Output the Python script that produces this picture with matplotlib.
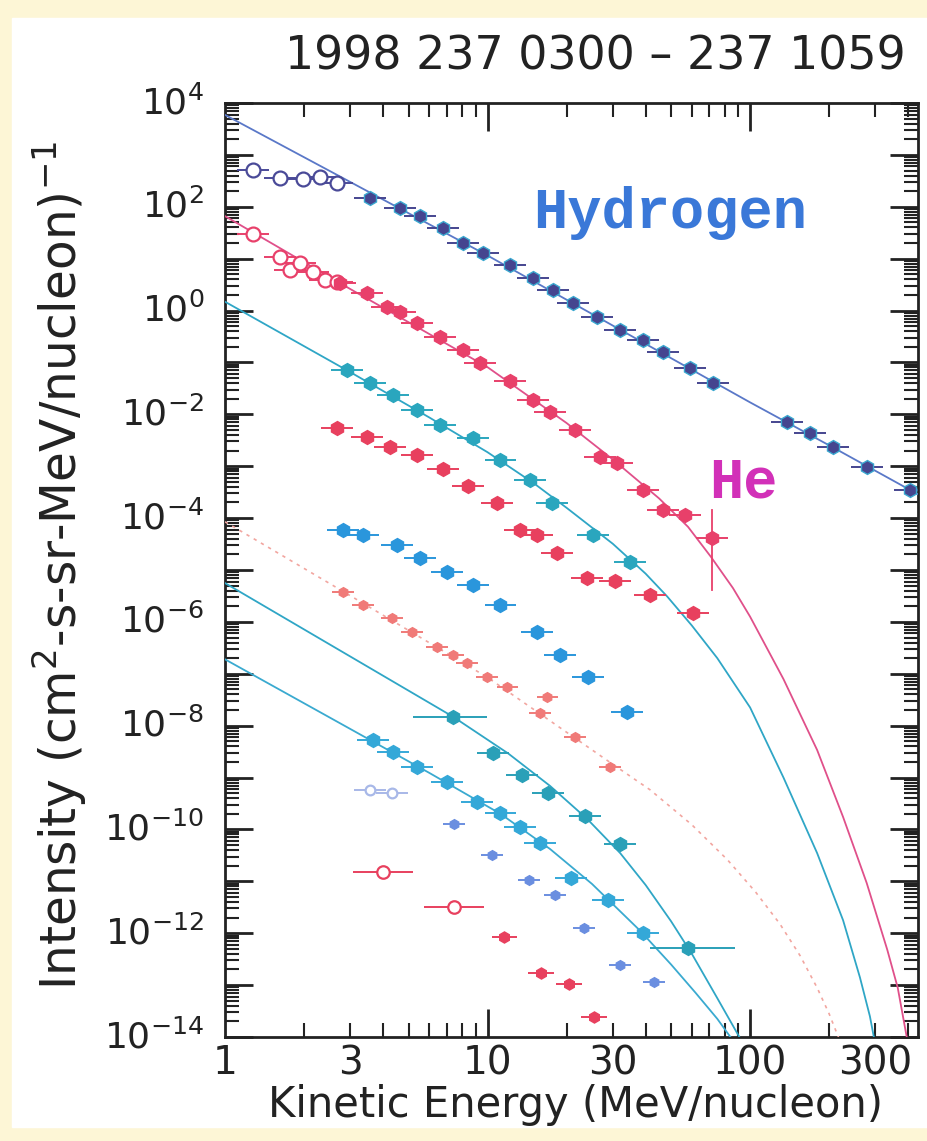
import numpy as np
import matplotlib.pyplot as plt
from matplotlib.patches import Rectangle
from matplotlib.ticker import FixedLocator, LogLocator, NullFormatter

plt.rcParams['font.family'] = ['DejaVu Sans']
plt.rcParams['mathtext.fontset'] = 'dejavusans'

# Hydrogen
h_open_E = [1.28, 1.62, 1.98, 2.30, 2.67]
h_open_I = [510, 359, 344, 375, 288]
h_E = [3.57, 4.64, 5.53, 6.77, 8.07, 9.61, 12.2, 14.9, 17.8, 21.2, 26.1, 32.0,
       39.1, 46.6, 59.1, 72.3, 138, 169, 207, 279, 407]
h_I = [148, 95, 66.5, 39, 20, 12.9, 7.6, 4.25, 2.5, 1.40, 0.75, 0.42,
       0.27, 0.159, 0.078, 0.040, 7.1e-3, 4.4e-3, 2.36e-3, 9.7e-4, 3.5e-4]
h_fit_E = [1, 10, 100, 207, 440]
h_fit_I = [5.9e3, 11.5, 1.7e-2, 2.3e-3, 2.8e-4]

# Helium
he_open_E = [1.28, 1.62, 1.77, 1.93, 2.16, 2.40, 2.67]
he_open_I = [30, 10.8, 6.1, 8.3, 5.5, 3.9, 3.6]
he_E = [2.74, 3.47, 4.14, 4.64, 5.39, 6.59, 8.07, 9.36, 12.2, 14.9, 17.3, 21.6,
        26.8, 31.1, 39.1, 46.6, 56.5, 71.6]
he_I = [3.4, 2.18, 1.17, 0.94, 0.58, 0.31, 0.174, 0.098, 0.044, 0.019, 0.0111, 0.0050,
        1.51e-3, 1.16e-3, 3.5e-4, 1.44e-4, 1.15e-4, 4.15e-5]
he_last_bar = [4.2e-6, 1.44e-4]
he_fit_E = [1, 3, 10, 20, 30, 45, 58, 71, 86, 100, 134, 180, 226, 278, 333, 365, 395]
he_fit_I = [66, 2.6, 0.081, 6.8e-3, 1.35e-3, 2.4e-4, 6.8e-5, 1.78e-5, 4.5e-6, 1.26e-6,
            7.9e-8, 3.4e-9, 1.74e-10, 9.3e-12, 4.8e-13, 8.9e-14, 1.0e-14]

# third species (cyan)
c_E = [2.92, 3.57, 4.36, 5.39, 6.59, 8.81, 11.2, 14.5, 17.6, 25.2, 34.9]
c_I = [0.072, 0.040, 0.0237, 0.0122, 6.25e-3, 3.5e-3, 1.32e-3, 5.4e-4, 1.96e-4, 4.7e-5, 1.43e-5]
c_fit_E = [1, 3, 6, 10, 15, 20, 30, 40, 48.3, 60, 75, 100, 134, 180, 226, 262, 286, 296]
c_fit_I = [1.48, 0.065, 8.7e-3, 1.86e-3, 4.7e-4, 1.58e-4, 3.2e-5, 8.5e-6, 3.1e-6, 8.5e-7,
           2.0e-7, 2.24e-8, 1.0e-9, 3.5e-11, 1.78e-12, 1.41e-13, 2.5e-14, 1.0e-14]

# red points
d_E = [2.67, 3.47, 4.25, 5.39, 6.77, 8.43, 10.9, 13.3, 15.4, 18.4, 23.9, 30.6, 41.6, 60.7]
d_I = [5.5e-3, 3.7e-3, 2.35e-3, 1.65e-3, 8.9e-4, 4.2e-4, 1.96e-4, 5.9e-5, 4.7e-5,
       2.1e-5, 7.0e-6, 6.2e-6, 3.3e-6, 1.5e-6]

# blue points
e_E = [2.82, 3.36, 4.52, 5.53, 7.01, 8.81, 11.2, 15.4, 18.9, 24.2, 34.0]
e_I = [5.9e-5, 4.7e-5, 3.0e-5, 1.7e-5, 9.2e-6, 5.2e-6, 2.1e-6, 6.4e-7, 2.3e-7, 8.7e-8, 1.85e-8]

# salmon points + faint dotted curve
f_E = [2.82, 3.36, 4.33, 5.16, 6.42, 7.39, 8.36, 9.96, 11.9, 15.8, 16.9, 21.5, 29.3]
f_I = [3.8e-6, 2.1e-6, 1.19e-6, 6.4e-7, 3.3e-7, 2.3e-7, 1.62e-7, 8.7e-8, 5.6e-8,
       1.77e-8, 3.6e-8, 6.1e-9, 1.6e-9]
f_fit_E = [1, 3, 10, 30, 41.6, 60, 82, 105, 130, 155, 180, 200, 222]
f_fit_I = [8.5e-5, 3.2e-6, 8.5e-8, 1.8e-9, 5.8e-10, 1.23e-10, 2.6e-11, 6.2e-12, 1.5e-12,
           3.7e-13, 8.9e-14, 2.8e-14, 7.4e-15]

# upper lower-cyan curve
g_E = [10.5, 13.5, 17.0, 23.5, 32.0]
g_I = [3.0e-9, 1.13e-9, 5.1e-10, 1.83e-10, 5.3e-11]
g_wide_E = [7.39, 58.0]
g_wide_I = [1.48e-8, 5.2e-13]
g_wide_lo = [5.2, 41.6]
g_wide_hi = [9.96, 87.8]
g_fit_E = [1, 7.4, 12, 17.3, 24, 32, 40, 50, 60, 75, 91]
g_fit_I = [5.6e-6, 1.48e-8, 2.9e-9, 6.9e-10, 1.58e-10, 3.5e-11, 8.5e-12, 1.7e-12,
           4.0e-13, 5.6e-14, 1.0e-14]

# lowest cyan curve
k_E = [3.66, 4.36, 5.39, 7.01, 9.12, 11.2, 13.3, 15.8, 20.8, 28.8, 39.1]
k_I = [5.4e-9, 3.1e-9, 1.6e-9, 8.3e-10, 3.4e-10, 2.1e-10, 1.12e-10, 5.5e-11, 1.17e-11,
       4.4e-12, 1.02e-12]
k_fit_E = [1, 6, 11.2, 17.3, 25, 38.1, 50, 62, 75, 85]
k_fit_I = [1.9e-7, 1.23e-9, 2.0e-10, 4.2e-11, 8.9e-12, 1.12e-12, 2.5e-13, 7.1e-14,
           2.24e-14, 9.3e-15]

# light blue points
i_open_E = [3.57, 4.33]
i_open_I = [5.8e-10, 5.1e-10]
i_E = [7.45, 10.4, 14.4, 18.1, 23.3, 32, 43.1]
i_I = [1.28e-10, 3.2e-11, 1.07e-11, 5.5e-12, 1.26e-12, 2.4e-13, 1.15e-13]

# red points at the bottom
j_E = [4.0, 7.45, 11.6, 16.0, 20.4, 25.5]
j_I = [1.5e-11, 3.2e-12, 8.5e-13, 1.73e-13, 1.06e-13, 2.45e-14]

x_ticks = [1, 3, 10, 30, 100, 300]
x_labels = ['1', '3', '10', '30', '100', '300']
y_ticks = [1e4, 1e2, 1e0, 1e-2, 1e-4, 1e-6, 1e-8, 1e-10, 1e-12, 1e-14]
y_labels = ['$10^{4}$', '$10^{2}$', '$10^{0}$', '$10^{-2}$', '$10^{-4}$', '$10^{-6}$',
            '$10^{-8}$', '$10^{-10}$', '$10^{-12}$', '$10^{-14}$']


def points(ax, E, I, color, edge=None, open_=False, f=1.15, ms=10, marker='h'):
    E = np.array(E)
    xerr = [E - E / f, E * f - E]
    ax.errorbar(E, I, xerr=xerr, fmt=marker, color=color, ms=ms,
                mfc='white' if open_ else color, mec=edge or color, mew=1.6 if open_ else 1.0,
                elinewidth=1.4, capsize=0, zorder=4)


fig = plt.figure(figsize=(9.27, 11.41), dpi=100, facecolor='#fdf6d6')
fig.patches.append(Rectangle((12 / 927, 0.012), 1, 1 - 18 / 1141 - 0.012,
                             transform=fig.transFigure, color='white', zorder=-5))
ax = fig.add_axes([225 / 927, 1 - 1037 / 1141, 693 / 927, 934 / 1141])
ax.patch.set_alpha(0)
ax.set_xscale('log')
ax.set_yscale('log')
ax.set_xlim(1, 436)
ax.set_ylim(1e-14, 1e4)

# fit curves
ax.plot(h_fit_E, h_fit_I, color='#5a78c8', lw=1.3, zorder=3)
ax.plot(he_fit_E, he_fit_I, color='#e0508a', lw=1.3, zorder=3)
ax.plot(c_fit_E, c_fit_I, color='#2fa6c6', lw=1.3, zorder=3)
ax.plot(f_fit_E, f_fit_I, color='#f2a6a0', lw=1.2, ls=(0, (2, 3)), zorder=3)
ax.plot(g_fit_E, g_fit_I, color='#2fa6c6', lw=1.3, zorder=3)
ax.plot(k_fit_E, k_fit_I, color='#3aaad0', lw=1.3, zorder=3)

# data points
points(ax, h_open_E, h_open_I, '#4a4a98', open_=True, ms=10, marker='o')
points(ax, h_E, h_I, '#45458f', edge='#3aa8d0')
points(ax, he_open_E, he_open_I, '#e8406a', open_=True, ms=10, marker='o')
points(ax, he_E, he_I, '#e8406a')
ax.plot([he_E[-1], he_E[-1]], he_last_bar, color='#e8406a', lw=1.3, zorder=4)
points(ax, c_E, c_I, '#2aa6be')
points(ax, d_E, d_I, '#e8405e')
points(ax, e_E, e_I, '#2a96dc')
points(ax, f_E, f_I, '#f07a78', ms=7, f=1.1)
points(ax, g_E, g_I, '#2aa0b8')
ax.errorbar(g_wide_E, g_wide_I,
            xerr=[np.array(g_wide_E) - np.array(g_wide_lo), np.array(g_wide_hi) - np.array(g_wide_E)],
            fmt='h', color='#2aa0b8', ms=10, elinewidth=1.4, capsize=0, zorder=4)
points(ax, k_E, k_I, '#34a8d8')
points(ax, i_open_E, i_open_I, '#a8b8e8', open_=True, ms=7, marker='o')
points(ax, i_E, i_I, '#6a8ee0', ms=7, f=1.1)
points(ax, j_E[:2], j_I[:2], '#e8405e', open_=True, ms=9, marker='o', f=1.3)
points(ax, j_E[2:], j_I[2:], '#e8405e', ms=8, f=1.12)

# axes styling
for s in ax.spines.values():
    s.set_linewidth(2)
    s.set_color('#222222')
ax.xaxis.set_major_locator(FixedLocator([10, 100]))
ax.xaxis.set_major_formatter(NullFormatter())
ax.xaxis.set_minor_locator(LogLocator(base=10, subs=np.arange(2, 10)))
ax.xaxis.set_minor_formatter(NullFormatter())
ax.yaxis.set_major_locator(LogLocator(base=10, numticks=30))
ax.yaxis.set_major_formatter(NullFormatter())
ax.yaxis.set_minor_locator(LogLocator(base=10, subs=np.arange(2, 10), numticks=30))
ax.yaxis.set_minor_formatter(NullFormatter())
ax.tick_params(which='both', direction='in', top=True, right=True, color='#222222')
ax.tick_params(which='major', length=20, width=2)
ax.tick_params(which='minor', length=10, width=1.5)

# tick labels as text
for v, t in zip(x_ticks, x_labels):
    ax.text(v, -0.008, t, transform=ax.get_xaxis_transform(), ha='center', va='top',
            fontsize=28, color='#222222')
for v, t in zip(y_ticks, y_labels):
    ax.text(-0.03, v, t, transform=ax.get_yaxis_transform(), ha='right', va='center',
            fontsize=26, color='#222222')

fig.text(575 / 927, 1 - 1105 / 1141, 'Kinetic Energy (MeV/nucleon)', ha='center', va='center',
         fontsize=30, color='#222222')
fig.text(60 / 927, 1 - 565 / 1141, 'Intensity (cm$^2$-s-sr-MeV/nucleon)$^{-1}$',
         rotation=90, ha='center', va='center', fontsize=35, color='#222222')
fig.text(595 / 927, 1 - 57 / 1141, '1998 237 0300 \u2013 237 1059',
         ha='center', va='center', fontsize=33, color='#222222')

fig.text(670 / 927, 1 - 213 / 1141, 'Hydrogen', family='Liberation Mono', weight='bold',
         fontsize=41, color='#3a78d8', ha='center', va='center')
fig.text(743 / 927, 1 - 483 / 1141, 'He', family='Liberation Mono', weight='bold',
         fontsize=41, color='#d230b8', ha='center', va='center')

fig.savefig('out.png', dpi=100, facecolor=fig.get_facecolor())
